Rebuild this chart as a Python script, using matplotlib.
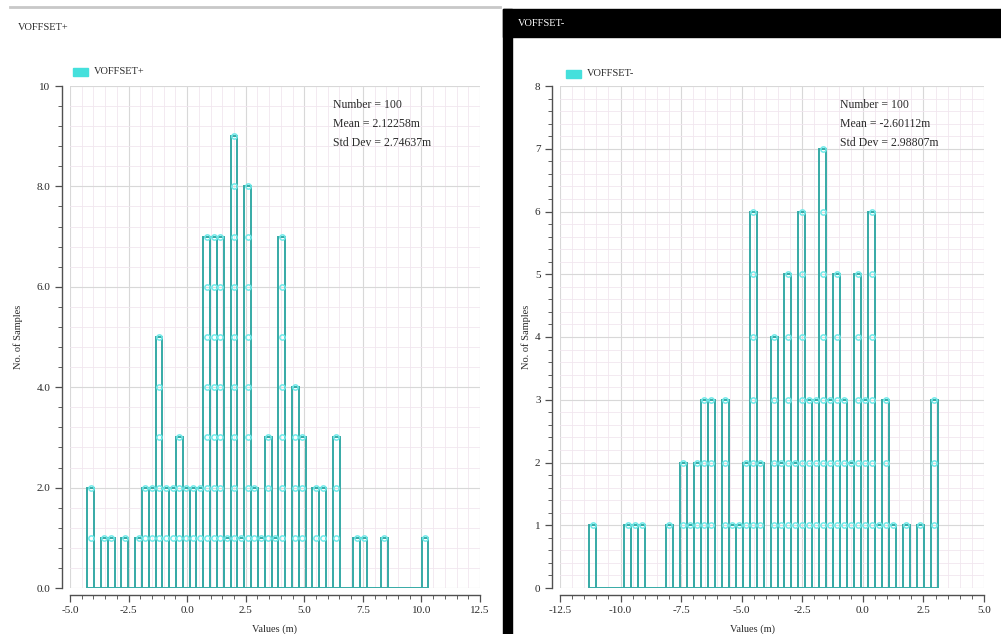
import numpy as np
import matplotlib
matplotlib.use("Agg")
import matplotlib.pyplot as plt
from matplotlib.patches import Rectangle
from matplotlib.lines import Line2D
from matplotlib.ticker import MultipleLocator, FixedLocator, FixedFormatter

# ---------------- data ----------------
pos_name = "VOFFSET+"
neg_name = "VOFFSET-"

pos_bin_start = -4.26
pos_bin_width = 0.2912
pos_counts = [2, 0, 1, 1, 0, 1, 0, 1, 2, 2,
              5, 2, 2, 3, 2, 2, 2, 7, 7, 7,
              1, 9, 1, 8, 2, 1, 3, 1, 7, 0,
              4, 3, 0, 2, 2, 0, 3, 0, 0, 1,
              1, 0, 0, 1, 0, 0, 0, 0, 0, 1]
pos_stats = ["Number = 100", "Mean = 2.12258m", "Std Dev = 2.74637m"]
pos_xticks = [-5.0, -2.5, 0.0, 2.5, 5.0, 7.5, 10.0, 12.5]
pos_xticklabels = ["-5.0", "-2.5", "0.0", "2.5", "5.0", "7.5", "10.0", "12.5"]
pos_yticks = [0, 2, 4, 6, 8, 10]
pos_yticklabels = ["0.0", "2.0", "4.0", "6.0", "8.0", "10"]

neg_bin_start = -11.29
neg_bin_width = 0.2877
neg_counts = [1, 0, 0, 0, 0, 1, 1, 1, 0, 0,
              0, 1, 0, 2, 1, 2, 3, 3, 0, 3,
              1, 1, 2, 6, 2, 0, 4, 2, 5, 2,
              6, 3, 3, 7, 3, 5, 3, 2, 5, 3,
              6, 1, 3, 1, 0, 1, 0, 1, 0, 3]
neg_stats = ["Number = 100", "Mean = -2.60112m", "Std Dev = 2.98807m"]
neg_xticks = [-12.5, -10.0, -7.5, -5.0, -2.5, 0.0, 2.5, 5.0]
neg_xticklabels = ["-12.5", "-10.0", "-7.5", "-5.0", "-2.5", "0.0", "2.5", "5.0"]
neg_yticks = [0, 1, 2, 3, 4, 5, 6, 7, 8]
neg_yticklabels = ["0", "1", "2", "3", "4", "5", "6", "7", "8"]

x_label = "Values (m)"
y_label = "No. of Samples"

# ---------------- style ----------------
W, H = 1001, 634
SERIF = ["Liberation Serif", "DejaVu Serif"]
EDGE = "#36aaa6"
BEAD = "#72eaea"
PATCH = "#45e0dc"
TXT = "#2a2a2a"

fig = plt.figure(figsize=(W / 100, H / 100), dpi=100)
fig.patch.set_facecolor("white")


def fx(x):
    return x / W


def fy(y):
    return 1 - y / H


def panel(rect_px, start, width, counts, xlim, ylim, xticks, xtl, yticks, ytl,
          yminor, stats, stats_px, leg_px, name, ylab_x, xlab_x):
    l, t, r, b = rect_px
    ax = fig.add_axes([fx(l), fy(b), (r - l) / W, (b - t) / H])
    ax.set_xlim(*xlim)
    ax.set_ylim(*ylim)
    n = len(counts)
    edges = start + width * np.arange(n + 1)
    centers = 0.5 * (edges[:-1] + edges[1:])
    ax.bar(centers, counts, width=width, fill=False, edgecolor=EDGE,
           linewidth=1.4, zorder=3)
    bx, by = [], []
    for c, k in zip(centers, counts):
        for lv in range(1, k + 1):
            bx.append(c)
            by.append(lv)
    ax.plot(bx, by, linestyle="none", marker="o", ms=3.8, mfc="none",
            mec=BEAD, mew=1.1, zorder=4)
    # grid
    ax.set_axisbelow(True)
    ax.xaxis.set_major_locator(FixedLocator(xticks))
    ax.xaxis.set_major_formatter(FixedFormatter(xtl))
    ax.yaxis.set_major_locator(FixedLocator(yticks))
    ax.yaxis.set_major_formatter(FixedFormatter(ytl))
    ax.xaxis.set_minor_locator(MultipleLocator(0.5))
    ax.yaxis.set_minor_locator(MultipleLocator(yminor))
    ax.grid(which="major", color="#d8d8d8", lw=0.8)
    ax.grid(which="minor", color="#f1e6ef", lw=0.6)
    for s in ("top", "right"):
        ax.spines[s].set_visible(False)
    ax.spines["left"].set_position(("outward", 6))
    ax.spines["bottom"].set_position(("outward", 5))
    for s in ("left", "bottom"):
        ax.spines[s].set_color("#505050")
        ax.spines[s].set_linewidth(1.0)
    ax.tick_params(which="major", length=5, width=0.9, color="#505050",
                   labelsize=8, labelcolor=TXT, pad=3)
    ax.tick_params(which="minor", length=3, width=0.7, color="#606060")
    for lab in ax.get_xticklabels() + ax.get_yticklabels():
        lab.set_family(SERIF)
    # stats
    sx, sy = stats_px
    for i, s in enumerate(stats):
        fig.text(fx(sx), fy(sy + 19 * i), s, family=SERIF, fontsize=8.5,
                 color=TXT, va="center", ha="left")
    # legend
    lx, ly = leg_px
    fig.add_artist(Rectangle((fx(lx), fy(ly + 4)), 15 / W, 8 / H,
                             color=PATCH, transform=fig.transFigure))
    fig.text(fx(lx + 21), fy(ly), name, family=SERIF, fontsize=7.5,
             color=TXT, va="center", ha="left")
    # axis labels
    fig.text(fx(ylab_x), fy((t + b) / 2), y_label, rotation=90, family=SERIF,
             fontsize=7.5, color=TXT, va="center", ha="center")
    fig.text(fx(xlab_x), fy(629), x_label, family=SERIF, fontsize=7.5,
             color=TXT, va="center", ha="center")
    return ax


panel((70, 86, 480, 588), pos_bin_start, pos_bin_width, pos_counts,
      (-5.0, 12.5), (0, 10), pos_xticks, pos_xticklabels, pos_yticks,
      pos_yticklabels, 0.4, pos_stats, (333, 105), (73, 72), pos_name, 18, 275)

panel((560, 86, 984, 588), neg_bin_start, neg_bin_width, neg_counts,
      (-12.5, 5.0), (0, 8), neg_xticks, neg_xticklabels, neg_yticks,
      neg_yticklabels, 0.2, neg_stats, (840, 105), (566, 74), neg_name, 526, 752)

# window decorations
fig.add_artist(Line2D([fx(10), fx(500)], [fy(7), fy(7)], color="#c8c8c8",
                      lw=2, transform=fig.transFigure))
fig.text(fx(18), fy(27), pos_name, family=SERIF, fontsize=7.5, color=TXT,
         va="center", ha="left")
fig.add_artist(Rectangle((fx(503), fy(37)), (W - 503) / W, 28 / H,
                         color="black", transform=fig.transFigure))
fig.add_artist(Rectangle((fx(503), 0), 9 / W, fy(9),
                         color="black", transform=fig.transFigure))
fig.text(fx(518), fy(24), neg_name, family=SERIF, fontsize=7.5, color="white",
         va="center", ha="left")

fig.savefig("out.png", dpi=100, facecolor="white")
